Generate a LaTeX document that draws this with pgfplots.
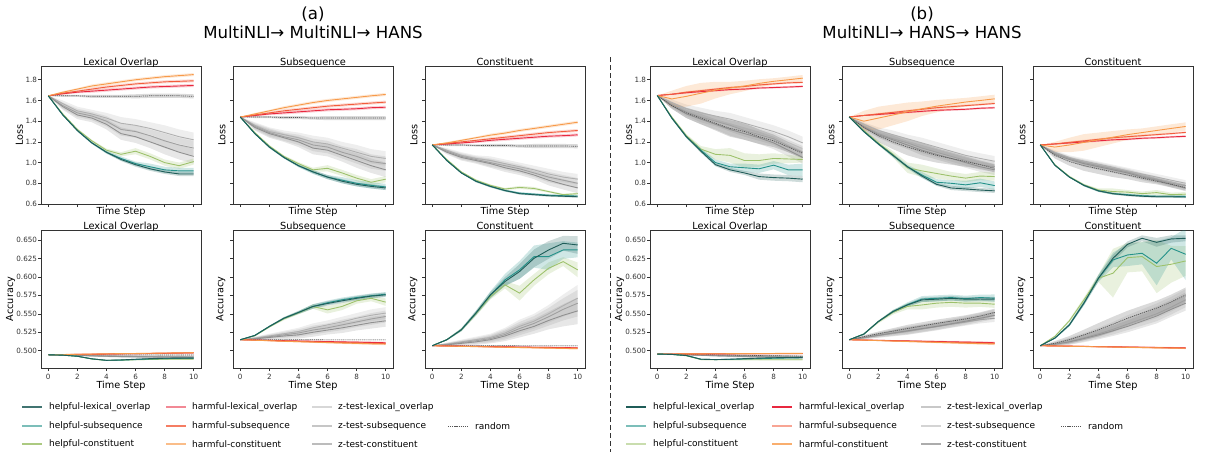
\documentclass[border=0pt]{standalone}
\usepackage{fontspec}
\setmainfont{DejaVu Sans}
\usepackage{pgfplots}
\usepackage{pgfplotstable}
\usepgfplotslibrary{fillbetween}
\pgfplotsset{compat=1.18}

\definecolor{chl}{HTML}{1F5C58}
\definecolor{chs}{HTML}{24928A}
\definecolor{chc}{HTML}{9DC16B}
\definecolor{crl}{HTML}{E8283F}
\definecolor{crs}{HTML}{F25C3C}
\definecolor{crc}{HTML}{F79A4A}
\definecolor{czl}{HTML}{B0B0B0}
\definecolor{czs}{HTML}{A0A0A0}
\definecolor{czc}{HTML}{909090}
\definecolor{crd}{HTML}{555555}
\definecolor{axc}{HTML}{333333}

% columns: mean of each series, then band half-widths
\pgfplotstableread{
x hl hs hc rl rs rc zl zs zc rd whl whs whc wr wrc wz wd
0 1.645 1.645 1.645 1.645 1.645 1.645 1.645 1.645 1.645 1.645 0 0 0 0 0 0 0
1 1.46 1.46 1.47 1.665 1.67 1.68 1.57 1.55 1.54 1.645 0.005 0.005 0.005 0.01 0.01 0.03 0.01
2 1.31 1.31 1.32 1.68 1.69 1.71 1.50 1.48 1.46 1.645 0.01 0.01 0.01 0.01 0.01 0.04 0.01
3 1.19 1.19 1.21 1.69 1.71 1.74 1.47 1.45 1.43 1.64 0.01 0.01 0.01 0.015 0.015 0.04 0.015
4 1.10 1.10 1.12 1.70 1.73 1.76 1.43 1.40 1.37 1.64 0.01 0.015 0.015 0.015 0.015 0.05 0.015
5 1.03 1.04 1.08 1.71 1.745 1.78 1.38 1.32 1.28 1.64 0.015 0.02 0.02 0.015 0.015 0.06 0.015
6 0.98 0.99 1.11 1.72 1.76 1.80 1.36 1.30 1.25 1.64 0.02 0.02 0.03 0.015 0.015 0.06 0.02
7 0.94 0.96 1.06 1.73 1.77 1.815 1.33 1.26 1.20 1.645 0.02 0.03 0.03 0.015 0.015 0.06 0.02
8 0.91 0.93 1.00 1.735 1.78 1.83 1.29 1.21 1.15 1.645 0.02 0.03 0.03 0.015 0.015 0.07 0.02
9 0.89 0.92 0.97 1.74 1.785 1.84 1.25 1.17 1.10 1.645 0.02 0.03 0.03 0.015 0.015 0.07 0.02
10 0.89 0.92 1.01 1.745 1.79 1.85 1.22 1.14 1.06 1.64 0.02 0.03 0.03 0.015 0.015 0.07 0.02
}\aLL
\pgfplotstableread{
x hl hs hc rl rs rc zl zs zc rd whl whs whc wr wrc wz wd
0 1.44 1.44 1.44 1.44 1.44 1.44 1.44 1.44 1.44 1.44 0 0 0 0 0 0 0
1 1.28 1.28 1.29 1.455 1.46 1.47 1.36 1.35 1.34 1.44 0.005 0.005 0.005 0.01 0.01 0.03 0.01
2 1.15 1.15 1.16 1.47 1.48 1.50 1.30 1.29 1.28 1.44 0.01 0.01 0.01 0.01 0.01 0.04 0.01
3 1.05 1.05 1.06 1.48 1.50 1.53 1.27 1.25 1.24 1.435 0.01 0.01 0.01 0.015 0.015 0.04 0.015
4 0.97 0.97 0.99 1.49 1.515 1.555 1.24 1.22 1.20 1.435 0.01 0.015 0.015 0.015 0.015 0.05 0.015
5 0.91 0.91 0.93 1.50 1.53 1.58 1.20 1.17 1.14 1.43 0.015 0.02 0.02 0.015 0.015 0.06 0.015
6 0.86 0.86 0.945 1.51 1.545 1.60 1.18 1.15 1.12 1.43 0.02 0.02 0.03 0.015 0.015 0.06 0.02
7 0.82 0.83 0.90 1.515 1.555 1.615 1.14 1.10 1.07 1.43 0.02 0.03 0.03 0.015 0.015 0.06 0.02
8 0.79 0.80 0.85 1.52 1.565 1.63 1.10 1.06 1.02 1.43 0.02 0.03 0.03 0.015 0.015 0.07 0.02
9 0.77 0.78 0.81 1.53 1.575 1.645 1.06 1.01 0.97 1.43 0.02 0.03 0.03 0.015 0.015 0.07 0.02
10 0.755 0.765 0.84 1.535 1.584 1.658 1.04 0.99 0.93 1.43 0.02 0.03 0.03 0.015 0.015 0.07 0.02
}\aLS
\pgfplotstableread{
x hl hs hc rl rs rc zl zs zc rd whl whs whc wr wrc wz wd
0 1.171 1.171 1.171 1.171 1.171 1.171 1.171 1.171 1.171 1.171 0 0 0 0 0 0 0
1 1.02 1.02 1.03 1.18 1.185 1.19 1.12 1.11 1.10 1.17 0.005 0.005 0.005 0.01 0.01 0.02 0.01
2 0.90 0.90 0.91 1.19 1.20 1.215 1.07 1.06 1.05 1.17 0.005 0.005 0.005 0.01 0.01 0.03 0.01
3 0.82 0.82 0.83 1.20 1.215 1.24 1.04 1.03 1.02 1.165 0.01 0.01 0.01 0.01 0.01 0.03 0.01
4 0.77 0.77 0.78 1.215 1.23 1.265 1.02 1.00 0.99 1.165 0.01 0.01 0.01 0.015 0.015 0.04 0.015
5 0.73 0.73 0.745 1.225 1.245 1.285 0.99 0.97 0.95 1.165 0.01 0.01 0.01 0.015 0.015 0.04 0.015
6 0.70 0.705 0.76 1.235 1.26 1.31 0.96 0.94 0.92 1.16 0.01 0.01 0.015 0.015 0.015 0.04 0.015
7 0.69 0.695 0.75 1.245 1.275 1.33 0.93 0.90 0.88 1.16 0.01 0.01 0.015 0.015 0.015 0.04 0.02
8 0.68 0.685 0.72 1.255 1.29 1.35 0.89 0.86 0.83 1.16 0.01 0.01 0.01 0.015 0.015 0.05 0.02
9 0.675 0.68 0.69 1.26 1.30 1.37 0.86 0.83 0.79 1.16 0.01 0.01 0.01 0.015 0.015 0.05 0.02
10 0.67 0.677 0.70 1.268 1.31 1.39 0.84 0.80 0.755 1.158 0.01 0.01 0.01 0.015 0.015 0.05 0.02
}\aLC
\pgfplotstableread{
x hl hs hc rl rs rc zl zs zc rd whl whs whc wr wrc wz wd
0 1.648 1.648 1.648 1.648 1.648 1.648 1.648 1.648 1.648 1.648 0 0 0 0 0 0 0
1 1.43 1.43 1.44 1.66 1.66 1.615 1.58 1.56 1.55 1.55 0.01 0.01 0.01 0.005 0.08 0.03 0.03
2 1.25 1.25 1.26 1.675 1.68 1.64 1.52 1.49 1.47 1.48 0.01 0.015 0.015 0.01 0.10 0.04 0.05
3 1.11 1.12 1.13 1.685 1.695 1.67 1.48 1.44 1.42 1.43 0.015 0.02 0.03 0.01 0.10 0.05 0.06
4 0.98 1.00 1.08 1.695 1.71 1.70 1.45 1.40 1.37 1.38 0.015 0.03 0.05 0.01 0.08 0.05 0.07
5 0.93 0.96 1.07 1.705 1.725 1.72 1.42 1.36 1.32 1.33 0.02 0.03 0.07 0.01 0.06 0.06 0.08
6 0.90 0.95 1.02 1.71 1.735 1.74 1.38 1.31 1.28 1.30 0.02 0.04 0.07 0.01 0.05 0.06 0.08
7 0.865 0.94 1.02 1.72 1.75 1.765 1.34 1.27 1.24 1.25 0.03 0.04 0.06 0.01 0.04 0.06 0.07
8 0.855 0.975 1.04 1.725 1.76 1.785 1.30 1.23 1.19 1.21 0.03 0.04 0.05 0.01 0.03 0.06 0.06
9 0.85 0.93 1.035 1.73 1.77 1.80 1.25 1.16 1.12 1.15 0.03 0.05 0.04 0.01 0.03 0.06 0.05
10 0.84 0.93 1.03 1.736 1.775 1.816 1.19 1.10 1.05 1.09 0.03 0.06 0.03 0.01 0.03 0.06 0.05
}\bLL
\pgfplotstableread{
x hl hs hc rl rs rc zl zs zc rd whl whs whc wr wrc wz wd
0 1.441 1.441 1.441 1.441 1.441 1.441 1.441 1.441 1.441 1.441 0 0 0 0 0 0 0
1 1.30 1.30 1.31 1.455 1.455 1.40 1.37 1.35 1.34 1.34 0.005 0.01 0.01 0.005 0.10 0.02 0.04
2 1.18 1.18 1.19 1.465 1.47 1.43 1.31 1.28 1.27 1.26 0.01 0.01 0.02 0.01 0.11 0.03 0.06
3 1.07 1.07 1.08 1.475 1.485 1.46 1.27 1.23 1.22 1.20 0.01 0.02 0.03 0.01 0.10 0.04 0.07
4 0.96 0.96 0.95 1.485 1.50 1.49 1.23 1.19 1.17 1.15 0.01 0.02 0.05 0.01 0.09 0.04 0.08
5 0.87 0.88 0.92 1.495 1.515 1.52 1.19 1.14 1.12 1.11 0.015 0.03 0.06 0.01 0.07 0.05 0.08
6 0.79 0.81 0.895 1.505 1.53 1.545 1.15 1.10 1.08 1.07 0.015 0.03 0.05 0.01 0.06 0.05 0.07
7 0.755 0.80 0.87 1.51 1.54 1.565 1.11 1.06 1.04 1.04 0.02 0.03 0.04 0.01 0.05 0.05 0.06
8 0.745 0.785 0.85 1.515 1.55 1.585 1.07 1.02 1.00 1.01 0.02 0.04 0.04 0.01 0.04 0.05 0.05
9 0.735 0.805 0.87 1.525 1.56 1.60 1.04 0.98 0.96 0.98 0.02 0.04 0.04 0.01 0.04 0.05 0.04
10 0.727 0.778 0.865 1.53 1.571 1.616 1.013 0.96 0.93 0.945 0.02 0.04 0.04 0.01 0.04 0.05 0.04
}\bLS
\pgfplotstableread{
x hl hs hc rl rs rc zl zs zc rd whl whs whc wr wrc wz wd
0 1.171 1.171 1.171 1.171 1.171 1.171 1.171 1.171 1.171 1.171 0 0 0 0 0 0 0
1 0.975 0.975 0.98 1.18 1.18 1.15 1.10 1.09 1.08 1.07 0.005 0.005 0.005 0.005 0.05 0.02 0.03
2 0.86 0.86 0.865 1.19 1.195 1.17 1.05 1.04 1.03 1.01 0.005 0.005 0.01 0.01 0.07 0.02 0.04
3 0.78 0.78 0.785 1.20 1.21 1.195 1.01 1.00 0.99 0.97 0.01 0.01 0.01 0.01 0.08 0.03 0.05
4 0.727 0.727 0.735 1.21 1.225 1.22 0.98 0.97 0.96 0.94 0.01 0.01 0.015 0.01 0.07 0.03 0.05
5 0.70 0.70 0.72 1.22 1.24 1.245 0.95 0.94 0.93 0.91 0.01 0.01 0.03 0.01 0.06 0.03 0.05
6 0.685 0.69 0.715 1.225 1.25 1.27 0.92 0.91 0.90 0.88 0.01 0.01 0.02 0.01 0.05 0.03 0.04
7 0.675 0.68 0.70 1.235 1.26 1.29 0.89 0.87 0.86 0.85 0.01 0.01 0.02 0.01 0.04 0.03 0.04
8 0.67 0.675 0.71 1.24 1.27 1.31 0.86 0.84 0.83 0.82 0.01 0.01 0.025 0.01 0.04 0.03 0.03
9 0.67 0.675 0.69 1.248 1.28 1.33 0.83 0.80 0.79 0.79 0.01 0.01 0.02 0.01 0.04 0.03 0.03
10 0.667 0.673 0.695 1.254 1.292 1.349 0.80 0.778 0.752 0.759 0.01 0.01 0.02 0.01 0.04 0.03 0.03
}\bLC
\pgfplotstableread{
x hl hs hc rl rs rc zl zs zc rd whl whs whc wr wrc wz wd
0 0.4945 0.4945 0.4945 0.4945 0.4945 0.4945 0.4945 0.4945 0.4945 0.4945 0 0 0 0 0 0 0
1 0.4940 0.4940 0.4940 0.4948 0.4948 0.4949 0.4943 0.4942 0.4942 0.4945 0.0002 0.0002 0.0002 0.0002 0.0002 0.0003 0.0002
2 0.4925 0.4925 0.4925 0.4950 0.4951 0.4952 0.4940 0.4938 0.4937 0.4945 0.0004 0.0004 0.0004 0.0003 0.0003 0.0006 0.0003
3 0.4890 0.4890 0.4888 0.4952 0.4953 0.4955 0.4935 0.4932 0.4930 0.4945 0.0005 0.0005 0.0005 0.0004 0.0004 0.0009 0.0003
4 0.4870 0.4870 0.4868 0.4955 0.4956 0.4958 0.4930 0.4928 0.4925 0.4944 0.0005 0.0005 0.0005 0.0004 0.0004 0.0012 0.0003
5 0.4875 0.4873 0.4872 0.4958 0.4959 0.4961 0.4928 0.4925 0.4921 0.4944 0.0006 0.0006 0.0006 0.0005 0.0005 0.0014 0.0003
6 0.4885 0.4880 0.4878 0.4960 0.4961 0.4963 0.4926 0.4922 0.4918 0.4944 0.0006 0.0006 0.0006 0.0005 0.0005 0.0015 0.0003
7 0.4893 0.4888 0.4882 0.4962 0.4963 0.4966 0.4924 0.4920 0.4915 0.4944 0.0007 0.0007 0.0007 0.0005 0.0005 0.0016 0.0003
8 0.4898 0.4893 0.4885 0.4965 0.4966 0.4969 0.4922 0.4918 0.4912 0.4943 0.0008 0.0008 0.0008 0.0005 0.0005 0.0017 0.0003
9 0.4900 0.4897 0.4887 0.4968 0.4969 0.4971 0.4921 0.4916 0.4910 0.4943 0.0008 0.0008 0.0008 0.0005 0.0005 0.0018 0.0003
10 0.4900 0.4900 0.4887 0.4970 0.4972 0.4974 0.4920 0.4915 0.4908 0.4943 0.0008 0.0008 0.0008 0.0005 0.0005 0.0018 0.0003
}\aAL
\pgfplotstableread{
x hl hs hc rl rs rc zl zs zc rd whl whs whc wr wrc wz wd
0 0.5149 0.5149 0.5149 0.5149 0.5149 0.5149 0.5149 0.5149 0.5149 0.5149 0 0 0 0 0 0 0
1 0.5207 0.5207 0.5202 0.5145 0.5143 0.5142 0.5170 0.5165 0.5160 0.5149 0.0008 0.0008 0.0008 0.0004 0.0004 0.002 0.0003
2 0.5329 0.5329 0.5322 0.5140 0.5137 0.5135 0.5200 0.5190 0.5180 0.5148 0.001 0.001 0.001 0.0006 0.0006 0.003 0.0003
3 0.5440 0.5440 0.5432 0.5136 0.5131 0.5128 0.5230 0.5215 0.5200 0.5148 0.0015 0.0015 0.002 0.0008 0.0008 0.004 0.0004
4 0.5518 0.5518 0.5512 0.5132 0.5126 0.5122 0.5260 0.5240 0.5215 0.5148 0.002 0.002 0.002 0.001 0.001 0.005 0.0004
5 0.5600 0.5600 0.5598 0.5128 0.5121 0.5116 0.5310 0.5280 0.5250 0.5148 0.003 0.003 0.003 0.001 0.001 0.006 0.0004
6 0.5640 0.5650 0.5554 0.5124 0.5116 0.5110 0.5350 0.5310 0.5280 0.5147 0.003 0.003 0.005 0.0012 0.0012 0.006 0.0005
7 0.5676 0.5690 0.5600 0.5120 0.5111 0.5104 0.5390 0.5350 0.5310 0.5147 0.003 0.003 0.005 0.0012 0.0012 0.007 0.0005
8 0.5710 0.5720 0.5676 0.5116 0.5106 0.5099 0.5440 0.5390 0.5345 0.5147 0.003 0.003 0.004 0.0014 0.0014 0.007 0.0005
9 0.5740 0.5745 0.5710 0.5112 0.5101 0.5094 0.5480 0.5430 0.5380 0.5147 0.003 0.003 0.004 0.0014 0.0014 0.008 0.0005
10 0.5757 0.5765 0.5658 0.5108 0.5098 0.5090 0.5510 0.5464 0.5405 0.5147 0.003 0.003 0.005 0.0015 0.0015 0.008 0.0005
}\aAS
\pgfplotstableread{
x hl hs hc rl rs rc zl zs zc rd whl whs whc wr wrc wz wd
0 0.5068 0.5068 0.5068 0.5068 0.5068 0.5068 0.5068 0.5068 0.5068 0.5068 0 0 0 0 0 0 0
1 0.5149 0.5149 0.5149 0.5065 0.5064 0.5063 0.5090 0.5085 0.5080 0.5068 0.001 0.001 0.001 0.0003 0.0003 0.002 0.0003
2 0.5284 0.5284 0.5284 0.5062 0.5061 0.5059 0.5120 0.5110 0.5100 0.5067 0.002 0.002 0.002 0.0005 0.0005 0.003 0.0003
3 0.5510 0.5510 0.5500 0.5059 0.5057 0.5055 0.5150 0.5135 0.5120 0.5067 0.003 0.003 0.003 0.0006 0.0006 0.004 0.0004
4 0.5757 0.5757 0.5734 0.5056 0.5054 0.5051 0.5180 0.5165 0.5150 0.5067 0.004 0.005 0.004 0.0007 0.0007 0.005 0.0004
5 0.5937 0.5960 0.5892 0.5053 0.5050 0.5047 0.5240 0.5220 0.5200 0.5067 0.006 0.008 0.005 0.0008 0.0008 0.007 0.0004
6 0.6072 0.6095 0.5780 0.5050 0.5047 0.5043 0.5330 0.5300 0.5270 0.5066 0.010 0.012 0.010 0.0009 0.0009 0.009 0.0005
7 0.6252 0.6275 0.5960 0.5047 0.5044 0.5039 0.5400 0.5370 0.5330 0.5066 0.012 0.015 0.008 0.001 0.001 0.010 0.0005
8 0.6365 0.6275 0.6117 0.5045 0.5041 0.5035 0.5500 0.5460 0.5410 0.5066 0.012 0.018 0.008 0.001 0.001 0.012 0.0005
9 0.6455 0.6365 0.6207 0.5042 0.5038 0.5031 0.5610 0.5560 0.5480 0.5066 0.010 0.012 0.006 0.001 0.001 0.015 0.0005
10 0.6432 0.6365 0.6095 0.5040 0.5035 0.5027 0.5712 0.5644 0.5540 0.5066 0.012 0.010 0.010 0.001 0.001 0.018 0.0005
}\aAC
\pgfplotstableread{
x hl hs hc rl rs rc zl zs zc rd whl whs whc wr wrc wz wd
0 0.4955 0.4955 0.4955 0.4955 0.4955 0.4955 0.4955 0.4955 0.4955 0.4955 0 0 0 0 0 0 0
1 0.4950 0.4950 0.4950 0.4956 0.4956 0.4956 0.4952 0.4951 0.4950 0.4953 0.0002 0.0002 0.0002 0.0002 0.0002 0.0003 0.0003
2 0.4935 0.4935 0.4932 0.4957 0.4957 0.4957 0.4948 0.4946 0.4944 0.4950 0.0004 0.0004 0.0004 0.0003 0.0003 0.0006 0.0005
3 0.4885 0.4885 0.4880 0.4957 0.4958 0.4958 0.4943 0.4940 0.4938 0.4947 0.0005 0.0005 0.0005 0.0004 0.0004 0.0009 0.0007
4 0.4880 0.4880 0.4878 0.4958 0.4959 0.4959 0.4938 0.4935 0.4932 0.4944 0.0005 0.0005 0.0005 0.0004 0.0004 0.0012 0.0008
5 0.4885 0.4883 0.4878 0.4958 0.4960 0.4960 0.4934 0.4930 0.4927 0.4941 0.0006 0.0006 0.0006 0.0005 0.0005 0.0014 0.0009
6 0.4893 0.4888 0.4878 0.4959 0.4960 0.4961 0.4930 0.4926 0.4922 0.4938 0.0006 0.0006 0.0006 0.0005 0.0005 0.0015 0.0010
7 0.4900 0.4893 0.4878 0.4959 0.4961 0.4962 0.4927 0.4922 0.4917 0.4935 0.0007 0.0007 0.0007 0.0005 0.0005 0.0016 0.0010
8 0.4905 0.4898 0.4878 0.4960 0.4962 0.4963 0.4924 0.4918 0.4913 0.4932 0.0008 0.0008 0.0008 0.0005 0.0005 0.0017 0.0010
9 0.4908 0.4902 0.4878 0.4960 0.4962 0.4964 0.4921 0.4914 0.4909 0.4929 0.0008 0.0008 0.0008 0.0005 0.0005 0.0018 0.0010
10 0.4910 0.4905 0.4878 0.4961 0.4963 0.4965 0.4918 0.4911 0.4905 0.4926 0.0008 0.0008 0.0008 0.0005 0.0005 0.0018 0.0010
}\bAL
\pgfplotstableread{
x hl hs hc rl rs rc zl zs zc rd whl whs whc wr wrc wz wd
0 0.5149 0.5149 0.5149 0.5149 0.5149 0.5149 0.5149 0.5149 0.5149 0.5149 0 0 0 0 0 0 0
1 0.5225 0.5225 0.5225 0.5145 0.5144 0.5143 0.5180 0.5175 0.5178 0.5190 0.001 0.001 0.001 0.0004 0.0004 0.002 0.002
2 0.5396 0.5396 0.5390 0.5141 0.5139 0.5137 0.5215 0.5205 0.5210 0.5230 0.001 0.001 0.002 0.0006 0.0006 0.003 0.003
3 0.5530 0.5530 0.5520 0.5137 0.5134 0.5131 0.5250 0.5235 0.5240 0.5265 0.002 0.002 0.003 0.0008 0.0008 0.004 0.004
4 0.5620 0.5625 0.5600 0.5133 0.5129 0.5125 0.5280 0.5265 0.5270 0.5300 0.002 0.003 0.004 0.001 0.001 0.005 0.005
5 0.5689 0.5700 0.5620 0.5129 0.5124 0.5119 0.5310 0.5295 0.5300 0.5335 0.003 0.004 0.006 0.001 0.001 0.005 0.005
6 0.5698 0.5710 0.5644 0.5125 0.5119 0.5113 0.5340 0.5325 0.5330 0.5370 0.003 0.004 0.006 0.0012 0.0012 0.005 0.005
7 0.5710 0.5720 0.5655 0.5121 0.5114 0.5107 0.5380 0.5360 0.5365 0.5400 0.003 0.004 0.006 0.0012 0.0012 0.005 0.005
8 0.5698 0.5705 0.5644 0.5117 0.5109 0.5101 0.5420 0.5390 0.5400 0.5430 0.003 0.004 0.006 0.0014 0.0014 0.005 0.005
9 0.5700 0.5720 0.5644 0.5113 0.5104 0.5096 0.5460 0.5420 0.5440 0.5470 0.003 0.004 0.005 0.0014 0.0014 0.005 0.005
10 0.5698 0.5712 0.5630 0.5108 0.5100 0.5092 0.5510 0.5440 0.5480 0.5520 0.003 0.005 0.005 0.0015 0.0015 0.005 0.005
}\bAS
\pgfplotstableread{
x hl hs hc rl rs rc zl zs zc rd whl whs whc wr wrc wz wd
0 0.5068 0.5068 0.5068 0.5068 0.5068 0.5068 0.5068 0.5068 0.5068 0.5068 0 0 0 0 0 0 0
1 0.5170 0.5170 0.5194 0.5065 0.5065 0.5064 0.5095 0.5090 0.5088 0.5100 0.001 0.001 0.001 0.0003 0.0003 0.002 0.003
2 0.5350 0.5350 0.5405 0.5062 0.5062 0.5060 0.5135 0.5125 0.5120 0.5149 0.002 0.002 0.002 0.0005 0.0005 0.004 0.005
3 0.5644 0.5644 0.5689 0.5059 0.5058 0.5057 0.5190 0.5175 0.5165 0.5215 0.003 0.003 0.003 0.0006 0.0006 0.005 0.007
4 0.5982 0.5982 0.5982 0.5056 0.5055 0.5053 0.5250 0.5230 0.5215 0.5284 0.004 0.005 0.005 0.0007 0.0007 0.006 0.009
5 0.6252 0.6230 0.6050 0.5053 0.5052 0.5050 0.5320 0.5290 0.5270 0.5360 0.005 0.010 0.033 0.0008 0.0008 0.007 0.010
6 0.6441 0.6297 0.6261 0.5050 0.5048 0.5046 0.5400 0.5360 0.5330 0.5441 0.004 0.015 0.020 0.0009 0.0009 0.008 0.010
7 0.6523 0.6320 0.6275 0.5047 0.5045 0.5043 0.5470 0.5430 0.5400 0.5510 0.004 0.015 0.020 0.001 0.001 0.009 0.010
8 0.6468 0.6185 0.6140 0.5044 0.5042 0.5039 0.5540 0.5500 0.5470 0.5577 0.006 0.030 0.036 0.001 0.001 0.010 0.010
9 0.6514 0.6387 0.6171 0.5041 0.5039 0.5036 0.5630 0.5590 0.5560 0.5660 0.005 0.015 0.025 0.001 0.001 0.010 0.010
10 0.6523 0.6306 0.6216 0.5038 0.5036 0.5033 0.5735 0.5690 0.5644 0.5757 0.004 0.035 0.020 0.001 0.001 0.010 0.010
}\bAC

% one series with its band: table, mean column, width column, colour, extra style
\newcommand{\serband}[5]{%
  \addplot[draw=none, forget plot, name path=u#2] table[x=x, y expr=\thisrow{#2}+\thisrow{#3}] {#1};
  \addplot[draw=none, forget plot, name path=l#2] table[x=x, y expr=\thisrow{#2}-\thisrow{#3}] {#1};
  \addplot[fill=#4, fill opacity=0.22, draw=none, forget plot] fill between[of=u#2 and l#2];
  \addplot[color=#4, line width=0.9pt, forget plot, #5] table[x=x, y=#2] {#1};
}
\newcommand{\drawpanel}[1]{%
  \serband{#1}{zl}{wz}{czl}{}
  \serband{#1}{zs}{wz}{czs}{}
  \serband{#1}{zc}{wz}{czc}{}
  \serband{#1}{rd}{wd}{crd}{line width=0.7pt, dash pattern=on 1.2pt off 0.9pt}
  \serband{#1}{rl}{wr}{crl}{}
  \serband{#1}{rs}{wr}{crs}{}
  \serband{#1}{rc}{wrc}{crc}{}
  \serband{#1}{hc}{whc}{chc}{}
  \serband{#1}{hs}{whs}{chs}{}
  \serband{#1}{hl}{whl}{chl}{}
}

\pgfplotsset{
  base/.style={
    scale only axis, width=160pt, height=138pt,
    xmin=-0.5, xmax=10.5, xtick={0,2,4,6,8,10},
    tick pos=left, tick align=outside, major tick length=3pt,
    axis line style={draw=axc, line width=0.9pt},
    tick style={draw=axc, line width=0.6pt},
    tick label style={font=\fontsize{7.2}{8}\selectfont, text=axc},
    y tick label style={inner xsep=0.8pt},
    /pgf/number format/assume math mode=true,
    scaled y ticks=false,
    label style={font=\fontsize{9.7}{11}\selectfont},
    title style={font=\fontsize{9.8}{11}\selectfont, at={(0.5,1)}, anchor=base, yshift=-5pt},
    xlabel={Time Step},
  },
  lossax/.style={base, ymin=0.6, ymax=1.933,
    ytick={0.6,0.8,1.0,1.2,1.4,1.6,1.8}, ylabel={Loss}, xticklabels={},
    xlabel style={at={(axis description cs:0.5,0)}, anchor=north, yshift=0.5pt},
    ylabel style={at={(axis description cs:-0.09,0.5)}, anchor=south},
    yticklabel style={/pgf/number format/.cd, fixed, fixed zerofill, precision=1}},
  accax/.style={base, ymin=0.4766, ymax=0.6635,
    ytick={0.5,0.525,0.55,0.575,0.6,0.625,0.65}, ylabel={Accuracy},
    xlabel style={yshift=6pt},
    ylabel style={at={(axis description cs:-0.14,0.5)}, anchor=south},
    yticklabel style={/pgf/number format/.cd, fixed, fixed zerofill, precision=3}},
  nolab/.style={yticklabels={},
    ylabel style={at={(axis description cs:-0.025,0.5)}, anchor=south}},
}

\newcommand{\lgi}[5]{%
  \draw[#4] (#1pt,-#3pt) -- ++(20pt,0pt);
  \node[anchor=west, inner sep=0pt, font=\fontsize{9}{11}\selectfont] at (#2pt,-#3pt) {#5};}

\begin{document}
\begin{tikzpicture}
\path (0pt,0pt) rectangle (1208pt,-455pt);

% ---------- group (a) ----------
\begin{axis}[lossax, at={(41pt,-204pt)}, anchor=south west, title={Lexical Overlap}]
\drawpanel{\aLL}
\end{axis}
\begin{axis}[lossax, nolab, at={(233pt,-204pt)}, anchor=south west, title={Subsequence}]
\drawpanel{\aLS}
\end{axis}
\begin{axis}[lossax, nolab, at={(425pt,-204pt)}, anchor=south west, title={Constituent}]
\drawpanel{\aLC}
\end{axis}
\begin{axis}[accax, at={(41pt,-368pt)}, anchor=south west, title={Lexical Overlap}]
\drawpanel{\aAL}
\end{axis}
\begin{axis}[accax, nolab, at={(233pt,-368pt)}, anchor=south west, title={Subsequence}]
\drawpanel{\aAS}
\end{axis}
\begin{axis}[accax, nolab, at={(425pt,-368pt)}, anchor=south west, title={Constituent}]
\drawpanel{\aAC}
\end{axis}

% ---------- group (b) ----------
\begin{axis}[lossax, at={(650pt,-204pt)}, anchor=south west, title={Lexical Overlap}]
\drawpanel{\bLL}
\end{axis}
\begin{axis}[lossax, nolab, at={(842pt,-204pt)}, anchor=south west, title={Subsequence}]
\drawpanel{\bLS}
\end{axis}
\begin{axis}[lossax, nolab, at={(1033pt,-204pt)}, anchor=south west, title={Constituent}]
\drawpanel{\bLC}
\end{axis}
\begin{axis}[accax, at={(650pt,-368pt)}, anchor=south west, title={Lexical Overlap}]
\drawpanel{\bAL}
\end{axis}
\begin{axis}[accax, nolab, at={(842pt,-368pt)}, anchor=south west, title={Subsequence}]
\drawpanel{\bAS}
\end{axis}
\begin{axis}[accax, nolab, at={(1033pt,-368pt)}, anchor=south west, title={Constituent}]
\drawpanel{\bAC}
\end{axis}

% group titles
\node[font=\fontsize{16.6}{19}\selectfont] at (313pt,-14pt) {(a)};
\node[font=\fontsize{16.6}{19}\selectfont] at (313pt,-32pt) {MultiNLI→ MultiNLI→ HANS};
\node[font=\fontsize{16.6}{19}\selectfont] at (922pt,-14pt) {(b)};
\node[font=\fontsize{16.6}{19}\selectfont] at (922pt,-32pt) {MultiNLI→ HANS→ HANS};

% separator
\draw[axc, line width=1pt, dash pattern=on 5pt off 3pt] (610pt,-57pt) -- (610pt,-452pt);

% legend (a)
\lgi{22}{49}{407}{color=chl!85!white, line width=1.4pt}{helpful-lexical\_overlap}
\lgi{22}{49}{426}{color=chs!60!white, line width=1.4pt}{helpful-subsequence}
\lgi{22}{49}{444}{color=chc!85!white, line width=1.4pt}{helpful-constituent}
\lgi{166}{192}{407}{color=crl!55!white, line width=1.4pt}{harmful-lexical\_overlap}
\lgi{166}{192}{426}{color=crs!80!white, line width=1.4pt}{harmful-subsequence}
\lgi{166}{192}{444}{color=crc!65!white, line width=1.4pt}{harmful-constituent}
\lgi{312}{338}{407}{color=czl!50!white, line width=1.4pt}{z-test-lexical\_overlap}
\lgi{312}{338}{426}{color=czs!60!white, line width=1.4pt}{z-test-subsequence}
\lgi{312}{338}{444}{color=czc!60!white, line width=1.4pt}{z-test-constituent}
\lgi{448}{475}{426}{color=crd, line width=0.7pt, dash pattern=on 1.2pt off 0.9pt}{random}

% legend (b)
\lgi{626}{653}{407}{color=chl, line width=1.4pt}{helpful-lexical\_overlap}
\lgi{626}{653}{426}{color=chs!60!white, line width=1.4pt}{helpful-subsequence}
\lgi{626}{653}{444}{color=chc!55!white, line width=1.4pt}{helpful-constituent}
\lgi{772}{799}{407}{color=crl, line width=1.4pt}{harmful-lexical\_overlap}
\lgi{772}{799}{426}{color=crs!55!white, line width=1.4pt}{harmful-subsequence}
\lgi{772}{799}{444}{color=crc!80!white, line width=1.4pt}{harmful-constituent}
\lgi{921}{947}{407}{color=czl!70!white, line width=1.4pt}{z-test-lexical\_overlap}
\lgi{921}{947}{426}{color=czs!45!white, line width=1.4pt}{z-test-subsequence}
\lgi{921}{947}{444}{color=czc!75!white, line width=1.4pt}{z-test-constituent}
\lgi{1061}{1088}{426}{color=crd, line width=0.7pt, dash pattern=on 1.2pt off 0.9pt}{random}
\end{tikzpicture}
\end{document}
